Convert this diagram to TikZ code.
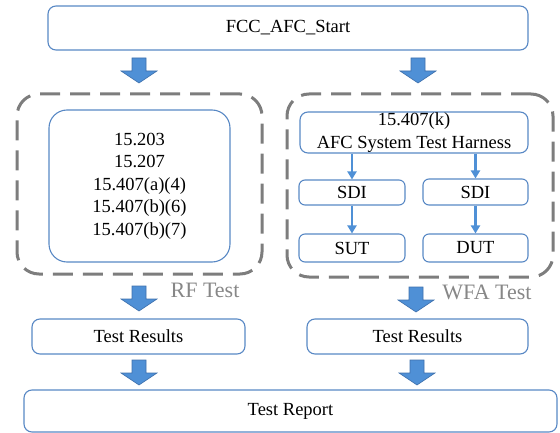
\documentclass[tikz,border=0pt]{standalone}
\usepackage{fontspec}
\setmainfont{Liberation Serif}
\usetikzlibrary{arrows.meta}
\definecolor{boxblue}{RGB}{88,136,196}
\definecolor{arrowfill}{RGB}{79,144,214}
\definecolor{arrowedge}{RGB}{62,112,172}
\definecolor{dashgray}{RGB}{125,125,125}
\definecolor{labelgray}{RGB}{135,135,135}
\tikzset{
  box/.style={draw=boxblue, line width=1.1pt, rounded corners=#1, inner sep=0pt, align=center,
    font=\fontsize{18.5}{22.5}\selectfont},
  box/.default=8pt,
  groupbox/.style={draw=dashgray, line width=3pt, dash pattern=on 20pt off 10pt, rounded corners=22pt, inner sep=0pt},
  grouplabel/.style={text=labelgray, font=\fontsize{22}{24}\selectfont, inner sep=0pt},
  smallarrow/.style={draw=arrowfill, line width=2.6pt, -{Triangle[width=9pt,length=8pt]}},
  blockarrow/.pic={\filldraw[fill=arrowfill, draw=arrowedge, line width=0.6pt]
    (-7,-13) -- (7,-13) -- (7,0) -- (18,0) -- (0,12) -- (-18,0) -- (-7,0) -- cycle;}
}
\begin{document}
\begin{tikzpicture}[x=1pt,y=-1pt]
\useasboundingbox (0,0) rectangle (560,433);
% top
\node[box, minimum width=480pt, minimum height=44pt] (start) at (288,28) {FCC\_AFC\_Start};
% group boxes
\node[groupbox, minimum width=245pt, minimum height=180pt] (rfgroup) at (139.5,184) {};
\node[groupbox, minimum width=266pt, minimum height=183pt] (wfagroup) at (420,185.5) {};
\node[grouplabel] (rflabel) at (205,290) {RF Test};
\node[grouplabel] (wfalabel) at (487,292) {WFA Test};
% RF inner
\node[box=18pt, minimum width=181pt, minimum height=152pt] (rules) at (139.5,186)
  {15.203\\15.207\\15.407(a)(4)\\15.407(b)(6)\\15.407(b)(7)};
% WFA inner
\node[box, minimum width=228pt, minimum height=41pt, font=\fontsize{18.5}{22.5}\selectfont] (harness) at (414,132.5)
  {15.407(k)\\AFC System Test Harness};
\node[box=6pt, minimum width=106pt, minimum height=25pt] (sdil) at (352,192.5) {SDI};
\node[box=6pt, minimum width=105pt, minimum height=26pt] (sdir) at (475.5,192) {SDI};
\node[box=6pt, minimum width=106pt, minimum height=28pt] (sut) at (352,248) {SUT};
\node[box=6pt, minimum width=105pt, minimum height=28pt] (dut) at (475.5,248) {DUT};
\draw[smallarrow] (harness.south -| sdil.north) -- (sdil.north);
\draw[smallarrow] (harness.south -| sdir.north) -- (sdir.north);
\draw[smallarrow] (sdil) -- (sut);
\draw[smallarrow] (sdir) -- (dut);
% results
\node[box, minimum width=213pt, minimum height=35pt] (resl) at (138.5,336.5) {Test Results};
\node[box, minimum width=221pt, minimum height=35pt] (resr) at (417.5,336.5) {Test Results};
\node[box, minimum width=533pt, minimum height=42pt] (report) at (290.5,411) {Test Report};
% block arrows
\pic at (139,71) {blockarrow};
\pic at (418,71) {blockarrow};
\pic at (139,299) {blockarrow};
\pic at (416,300) {blockarrow};
\pic at (139,373) {blockarrow};
\pic at (417,373) {blockarrow};
\end{tikzpicture}
\end{document}
